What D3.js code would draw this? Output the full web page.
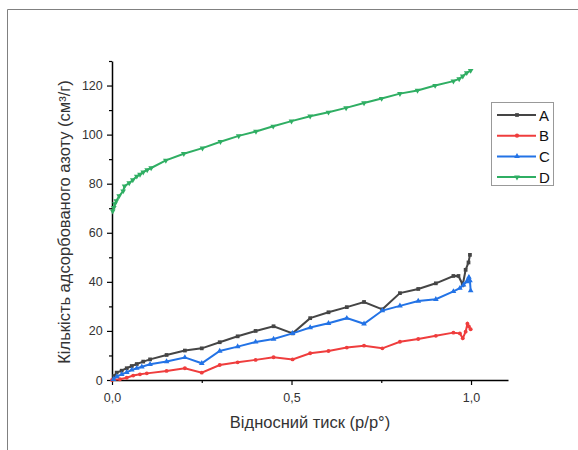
<!DOCTYPE html>
<html>
<head>
<meta charset="utf-8">
<script src="https://cdn.jsdelivr.net/npm/d3@7"></script>
<style>
body{margin:0;background:#fff;}
svg{display:block;font-family:"Liberation Sans",Arial,sans-serif;}
</style>
</head>
<body>
<div id="container"></div>
<script>
// series names / colours / markers
var names = ['A', 'B', 'C', 'D'];
var colors = ['#454545', '#ef3d3d', '#2373e6', '#2fae63'];
var symbols = [d3.symbolSquare, d3.symbolCircle, d3.symbolTriangle, d3.symbolTriangle];

// relative pressure values (x) and adsorbed amount (y) per series
var xA = [0.006,0.013,0.027,0.041,0.055,0.069,0.087,0.106,0.152,0.203,0.25,0.3,0.35,0.4,0.45,0.503,0.552,0.603,0.654,0.702,0.753,0.802,0.853,0.902,0.951,0.965,0.977,0.985,0.993,0.997];
var yA = [1.6,3.0,3.8,4.8,5.7,6.5,7.5,8.4,10.2,12.0,12.9,15.4,17.8,20.0,21.9,19.0,25.2,27.6,29.7,31.8,28.8,35.4,37.1,39.4,42.4,42.4,38.8,44.9,47.9,51.0];

var xB = [0.0,0.022,0.041,0.059,0.078,0.097,0.152,0.203,0.25,0.3,0.35,0.4,0.45,0.503,0.552,0.603,0.654,0.702,0.753,0.802,0.853,0.902,0.951,0.969,0.977,0.985,0.99,0.994,0.999];
var yB = [0.0,0.3,0.9,1.8,2.3,2.7,3.7,4.8,3.0,6.1,7.2,8.2,9.3,8.4,10.9,11.8,13.2,14.0,12.9,15.6,16.7,18.0,19.3,19.0,17.0,19.7,22.9,21.8,20.7];

var xC = [0.004,0.013,0.027,0.041,0.055,0.069,0.083,0.106,0.152,0.203,0.25,0.3,0.35,0.4,0.45,0.503,0.552,0.603,0.654,0.702,0.753,0.802,0.853,0.902,0.951,0.969,0.979,0.988,0.994,0.997,0.999];
var yC = [0.3,1.4,2.3,3.1,4.1,4.8,5.4,6.4,7.5,9.2,6.8,11.8,13.6,15.5,16.7,19.0,21.4,23.1,25.2,22.9,28.3,30.2,32.2,32.9,36.1,37.4,38.8,40.1,41.9,40.5,36.4];

var xD = [0.002,0.005,0.008,0.012,0.02,0.031,0.035,0.048,0.058,0.069,0.078,0.087,0.098,0.109,0.15,0.2,0.252,0.302,0.353,0.401,0.449,0.5,0.552,0.603,0.652,0.702,0.751,0.802,0.851,0.9,0.951,0.967,0.977,0.988,0.999];
var yD = [68.8,70.2,71.8,73.0,75.0,77.0,79.0,80.3,81.5,83.0,83.8,84.7,85.6,86.4,89.5,92.2,94.5,97.1,99.5,101.3,103.4,105.5,107.5,109.1,110.9,112.9,114.7,116.7,118.0,120.0,121.8,122.7,123.8,125.2,126.1];

var xTicks = [0, 0.5, 1.0];
var xMinor = [0.25, 0.75];
var yTicks = [0, 20, 40, 60, 80, 100, 120];
var yMinor = [10, 30, 50, 70, 90, 110, 130];

var xLabel = 'Відносний тиск (p/p°)';
var yLabel = 'Кількість адсорбованого азоту (см³/г)';

function drawChart(id, width, height){
    var left = 112, right = 508, top = 61, bottom = 380;
    var svg = d3.select('#'+id).append('svg')
        .attr('width', width)
        .attr('height', height);

    // page frame (top and left edge)
    svg.append('path')
        .attr('d', 'M7.5,' + height + 'V9.5H' + width)
        .attr('fill', 'none')
        .attr('stroke', '#808080')
        .attr('stroke-width', 1);

    var x = d3.scaleLinear().domain([0, 1.103]).range([left, right]);
    var y = d3.scaleLinear().domain([0, 130]).range([bottom, top]);
    var fmt = function(d){ return d3.format('.1f')(d).replace('.', ','); };

    var gx = svg.append('g').attr('transform', 'translate(0,' + bottom + ')')
        .call(d3.axisBottom(x).tickValues(xTicks).tickFormat(fmt).tickSize(5).tickSizeOuter(0));
    gx.append('g').call(d3.axisBottom(x).tickValues(xMinor).tickFormat('').tickSize(3).tickSizeOuter(0))
        .select('.domain').remove();

    var gy = svg.append('g').attr('transform', 'translate(' + left + ',0)')
        .call(d3.axisLeft(y).tickValues(yTicks).tickSize(5).tickSizeOuter(0));
    gy.append('g').call(d3.axisLeft(y).tickValues(yMinor).tickFormat('').tickSize(3).tickSizeOuter(0))
        .select('.domain').remove();

    svg.selectAll('.domain').attr('stroke', '#000').attr('stroke-width', 1.5);
    svg.selectAll('.tick line').attr('stroke', '#000').attr('stroke-width', 1.2);
    svg.selectAll('.tick text').attr('font-size', 12.5).attr('fill', '#333')
        .attr('font-family', '"Liberation Sans",Arial,sans-serif');
    gx.selectAll('.tick text').attr('dy', '1.1em');
    gy.selectAll('.tick text').attr('dx', '-0.1em');

    svg.append('text')
        .attr('x', 310).attr('y', 428)
        .attr('text-anchor', 'middle')
        .attr('font-size', 16.5).attr('fill', '#333')
        .text(xLabel);
    svg.append('text')
        .attr('transform', 'translate(70,222) rotate(-90)')
        .attr('text-anchor', 'middle')
        .attr('font-size', 16.5).attr('fill', '#333')
        .text(yLabel);

    var data = [[xA, yA], [xB, yB], [xC, yC], [xD, yD]];
    var line = d3.line().x(function(d){ return x(d[0]); }).y(function(d){ return y(d[1]); });

    for(var i = 0; i < data.length; i++){
        var pts = d3.zip(data[i][0], data[i][1]);
        var g = svg.append('g');
        g.append('path')
            .attr('d', line(pts))
            .attr('fill', 'none')
            .attr('stroke', colors[i])
            .attr('stroke-width', 2);
        var sym = d3.symbol().type(symbols[i]).size(i == 1 ? 12 : 14);
        g.selectAll('path.m').data(pts).enter().append('path')
            .attr('class', 'm')
            .attr('d', sym)
            .attr('transform', function(d){
                return 'translate(' + x(d[0]) + ',' + y(d[1]) + ')' + (i == 3 ? ' rotate(180)' : '');
            })
            .attr('fill', colors[i]);
    }

    // legend
    var lg = svg.append('g');
    lg.append('rect')
        .attr('x', 491.5).attr('y', 102.5)
        .attr('width', 62).attr('height', 83)
        .attr('fill', '#fff')
        .attr('stroke', '#999');
    for(i = 0; i < names.length; i++){
        var ly = 115 + i*20.7;
        lg.append('line')
            .attr('x1', 497).attr('x2', 536)
            .attr('y1', ly).attr('y2', ly)
            .attr('stroke', colors[i]).attr('stroke-width', 2);
        lg.append('path')
            .attr('d', d3.symbol().type(symbols[i]).size(14)())
            .attr('transform', 'translate(517,' + ly + ')' + (i == 3 ? ' rotate(180)' : ''))
            .attr('fill', colors[i]);
        lg.append('text')
            .attr('x', 539).attr('y', ly + 5.5)
            .attr('font-size', 15).attr('fill', '#111')
            .text(names[i]);
    }
}
drawChart('container', 578, 450);
</script>
</body>
</html>
